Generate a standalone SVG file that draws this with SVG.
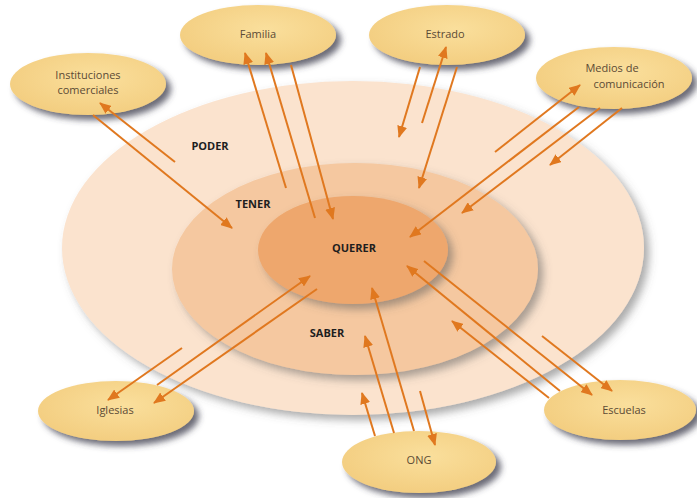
<svg xmlns="http://www.w3.org/2000/svg" width="697" height="498" viewBox="0 0 697 498">
<defs>
<style>
.node{fill:url(#ng);filter:url(#sh)}
.nt{font-family:"Open Sans","Liberation Sans",sans-serif;font-size:11px;fill:#5b4a35;text-anchor:middle}
.lab{font-family:"Open Sans","Liberation Sans",sans-serif;font-size:11px;font-weight:bold;fill:#1e1e1e;text-anchor:middle}
.ar{stroke:#E0781F;stroke-width:2;fill:none;marker-end:url(#ah)}
</style>
<radialGradient id="ng" cx="0.55" cy="0.4" r="0.7">
<stop offset="0" stop-color="#FADF9C"/>
<stop offset="1" stop-color="#F2CB7C"/>
</radialGradient>
<filter id="sh" x="-20%" y="-20%" width="150%" height="160%">
<feDropShadow dx="5" dy="5" stdDeviation="3" flood-color="#3a3a4a" flood-opacity="0.75"/>
</filter>
<filter id="sh2" x="-20%" y="-20%" width="150%" height="160%">
<feDropShadow dx="5" dy="5" stdDeviation="4" flood-color="#555" flood-opacity="0.5"/>
</filter>
<marker id="ah" markerUnits="userSpaceOnUse" markerWidth="12" markerHeight="10" refX="11" refY="5" orient="auto">
<path d="M0,0 L12,5 L0,10 Z" fill="#E0781F"/>
</marker>
</defs>
<rect width="697" height="498" fill="#ffffff"/>
<g id="rings">
<ellipse cx="353" cy="248" rx="291" ry="167" fill="#FBE3CE" filter="url(#sh2)"/>
<ellipse cx="355" cy="269" rx="183" ry="106" fill="#F5C8A0" filter="url(#sh2)"/>
<ellipse cx="353" cy="250" rx="95" ry="54" fill="#EEA76D" filter="url(#sh2)"/>
</g>
<g id="labels">
<text class="lab" x="210" y="150">PODER</text>
<text class="lab" x="253" y="208">TENER</text>
<text class="lab" x="354" y="252">QUERER</text>
<text class="lab" x="327" y="337">SABER</text>
</g>
<g id="n-instituciones"><ellipse class="node" cx="88" cy="84" rx="78" ry="31"/><text class="nt" x="88" y="79">Instituciones</text><text class="nt" x="88" y="94">comerciales</text></g>
<g id="n-familia"><ellipse class="node" cx="258" cy="35" rx="78" ry="30"/><text class="nt" x="258" y="38">Familia</text></g>
<g id="n-estrado"><ellipse class="node" cx="447" cy="35" rx="78" ry="30"/><text class="nt" x="445" y="38">Estrado</text></g>
<g id="n-medios"><ellipse class="node" cx="614" cy="78" rx="78" ry="31"/><text class="nt" x="612" y="72">Medios de</text><text class="nt" x="629" y="88">comunicación</text></g>
<g id="n-iglesias"><ellipse class="node" cx="116" cy="411" rx="78" ry="30"/><text class="nt" x="115" y="414">Iglesias</text></g>
<g id="n-escuelas"><ellipse class="node" cx="620" cy="410" rx="76" ry="30"/><text class="nt" x="624" y="414">Escuelas</text></g>
<g id="n-ong"><ellipse class="node" cx="419" cy="462" rx="77" ry="31"/><text class="nt" x="419" y="464">ONG</text></g>
<g id="connectors">
<line class="ar" x1="175" y1="162" x2="100" y2="103"/>
<line class="ar" x1="93" y1="115" x2="232" y2="228"/>
<line class="ar" x1="286" y1="188" x2="245" y2="53"/>
<line class="ar" x1="315" y1="218" x2="266" y2="53"/>
<line class="ar" x1="291" y1="65" x2="333" y2="219"/>
<line class="ar" x1="420" y1="67" x2="399" y2="137"/>
<line class="ar" x1="422" y1="123" x2="446" y2="47"/>
<line class="ar" x1="457" y1="67" x2="419" y2="188"/>
<line class="ar" x1="495" y1="152" x2="580" y2="85"/>
<line class="ar" x1="579" y1="107" x2="410" y2="237"/>
<line class="ar" x1="600" y1="108" x2="462" y2="213"/>
<line class="ar" x1="622" y1="108" x2="550" y2="165"/>
<line class="ar" x1="182" y1="348" x2="108" y2="400"/>
<line class="ar" x1="157" y1="385" x2="310" y2="276"/>
<line class="ar" x1="317" y1="289" x2="154" y2="403"/>
<line class="ar" x1="375" y1="436" x2="362" y2="393"/>
<line class="ar" x1="394" y1="433" x2="365" y2="336"/>
<line class="ar" x1="414" y1="431" x2="372" y2="288"/>
<line class="ar" x1="420" y1="391" x2="435" y2="445"/>
<line class="ar" x1="424" y1="261" x2="592" y2="395"/>
<line class="ar" x1="560" y1="391" x2="407" y2="266"/>
<line class="ar" x1="549" y1="398" x2="452" y2="321"/>
<line class="ar" x1="542" y1="336" x2="612" y2="391"/>
</g>
</svg>
